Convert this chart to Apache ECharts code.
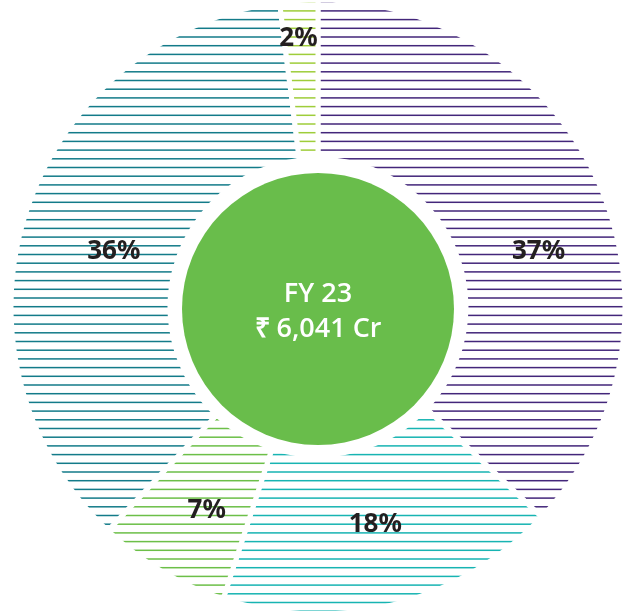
<!DOCTYPE html>
<html>
<head>
<meta charset="utf-8">
<script src="https://cdn.jsdelivr.net/npm/echarts@6/dist/echarts.min.js"></script>
<style>
html,body{margin:0;padding:0;background:#fff;}
#chart{width:630px;height:611px;}
</style>
</head>
<body>
<div id="chart"></div>
<script>
// ---- data ----
const sliceNames = ['37%', '18%', '7%', '36%', '2%'];
const sliceValues = [37, 18, 7, 36, 2];
const centerTitle = 'FY 23';
const centerValue = '₹ 6,041 Cr';

// ---- styles ----
const sliceColors = ['#43267a', '#17b4b2', '#6cbf48', '#137b89', '#9ecd3a'];
const labelOffsets = [[9, 36], [0, -6], [6, 5], [15, 16], [-5, -38]];

function stripes(color) {
  const c = document.createElement('canvas');
  const step = 8.7, n = 10;
  c.width = 8; c.height = Math.round(step * n);
  const ctx = c.getContext('2d');
  ctx.fillStyle = color;
  for (let k = 0; k < n; k++) {
    const y = 2.2 + step * k;
    ctx.fillRect(0, y - 0.75, 8, 1.5);
  }
  return { image: c, repeat: 'repeat' };
}

const chart = echarts.init(document.getElementById('chart'), null, { renderer: 'canvas' });
chart.setOption({
  animation: false,
  backgroundColor: '#ffffff',
  series: [
    {
      type: 'pie',
      silent: true,
      center: [318, 307],
      radius: [148, 307],
      startAngle: 90,
      clockwise: true,
      avoidLabelOverlap: false,
      itemStyle: { borderColor: '#ffffff', borderWidth: 5 },
      label: {
        show: true,
        position: 'inside',
        formatter: '{b}',
        color: '#231f20',
        fontFamily: 'Noto Sans',
        fontWeight: 'bold',
        fontSize: 26
      },
      labelLine: { show: false },
      data: sliceValues.map((v, i) => ({
        value: v,
        name: sliceNames[i],
        itemStyle: { color: stripes(sliceColors[i]) },
        label: { offset: labelOffsets[i] }
      }))
    },
    {
      type: 'pie',
      silent: true,
      center: [318, 309],
      radius: [0, 136],
      label: {
        show: true,
        position: 'center',
        offset: [0, 3],
        formatter: '{a|' + centerTitle + '}\n{b|' + centerValue + '}',
        rich: {
          a: { color: '#ffffff', fontFamily: 'Open Sans', fontWeight: 600, fontSize: 27, lineHeight: 35 },
          b: { color: '#ffffff', fontFamily: 'Open Sans', fontWeight: 600, fontSize: 27, lineHeight: 35 }
        }
      },
      labelLine: { show: false },
      itemStyle: { color: '#69bd4b' },
      data: [{ value: 1, name: centerTitle }]
    }
  ]
});
</script>
</body>
</html>
